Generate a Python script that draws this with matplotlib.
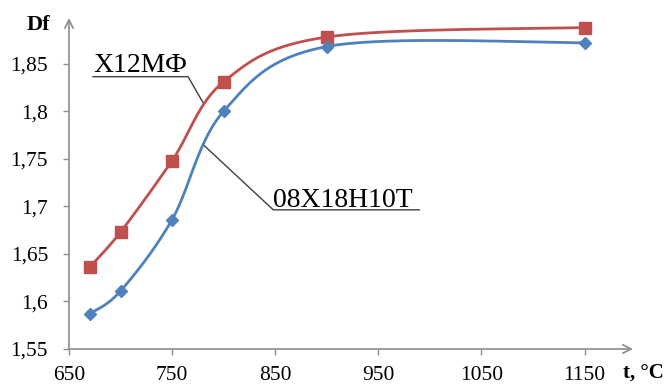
import numpy as np
import matplotlib
matplotlib.use("Agg")
import matplotlib.pyplot as plt

# Data
temps = [670, 700, 750, 800, 900, 1150]
df_x12mf = [1.636, 1.673, 1.748, 1.831, 1.878, 1.888]
df_08x18 = [1.587, 1.611, 1.686, 1.800, 1.868, 1.872]
xticks = [650, 750, 850, 950, 1050, 1150]
xtick_labels = ["650", "750", "850", "950", "1050", "1150"]
yticks = [1.55, 1.6, 1.65, 1.7, 1.75, 1.8, 1.85]
ytick_labels = ["1,55", "1,6", "1,65", "1,7", "1,75", "1,8", "1,85"]
name_red = "Х12МФ"
name_blue = "08Х18Н10Т"

XLIM = (650, 1197)
YLIM = (1.55, 1.898)

RED = "#C0504D"
BLUE = "#4F81BD"
AX = "#8C8C8C"
SERIF = ["Liberation Serif", "DejaVu Serif"]

def smooth(xs, ys, n=40):
    # Excel-like smoothed line (Catmull-Rom Bezier) computed in normalized space
    xs = np.asarray(xs, float); ys = np.asarray(ys, float)
    sx = 547.0 / (XLIM[1] - XLIM[0]); sy = 331.0 / (YLIM[1] - YLIM[0])
    P = np.column_stack([(xs - XLIM[0]) * sx, (ys - YLIM[0]) * sy])
    out = []
    for i in range(len(P) - 1):
        p0 = P[i - 1] if i > 0 else P[i]
        p1 = P[i]; p2 = P[i + 1]
        p3 = P[i + 2] if i + 2 < len(P) else P[i + 1]
        c1 = p1 + (p2 - p0) / 6.0
        c2 = p2 - (p3 - p1) / 6.0
        t = np.linspace(0, 1, n)[:, None]
        seg = (1 - t) ** 3 * p1 + 3 * (1 - t) ** 2 * t * c1 + 3 * (1 - t) * t ** 2 * c2 + t ** 3 * p2
        out.append(seg if i == 0 else seg[1:])
    out = np.vstack(out)
    return out[:, 0] / sx + XLIM[0], out[:, 1] / sy + YLIM[0]

fig = plt.figure(figsize=(6.68, 3.85), dpi=100)
ax = fig.add_axes([69 / 668, 1 - 349 / 385, (633 - 69) / 668, (349 - 18) / 385])
ax.set_xlim(*XLIM)
ax.set_ylim(*YLIM)

for sp in ax.spines.values():
    sp.set_visible(False)

# axis arrows
ax.annotate("", xy=(1, 0), xytext=(0, 0), xycoords="axes fraction",
            arrowprops=dict(arrowstyle="->,head_length=0.6,head_width=0.3", color=AX, lw=1.2,
                            shrinkA=0, shrinkB=0), annotation_clip=False)
ax.annotate("", xy=(0, 1), xytext=(0, 0), xycoords="axes fraction",
            arrowprops=dict(arrowstyle="->,head_length=0.6,head_width=0.3", color=AX, lw=1.2,
                            shrinkA=0, shrinkB=0), annotation_clip=False)

ax.set_xticks(xticks)
ax.set_xticklabels(xtick_labels, fontfamily=SERIF, fontsize=15.5)
ax.set_yticks(yticks)
ax.set_yticklabels(ytick_labels, fontfamily=SERIF, fontsize=15.5)
ax.tick_params(axis="both", colors=AX, labelcolor="black", length=4, width=1, direction="out")
ax.tick_params(axis="x", pad=8)
ax.tick_params(axis="y", pad=11)

rx, ry = smooth(temps, df_x12mf)
bx, by = smooth(temps, df_08x18)
ax.plot(rx, ry, color=RED, lw=2.0, zorder=3, clip_on=False)
ax.plot(bx, by, color=BLUE, lw=2.0, zorder=3, clip_on=False)
ax.plot(temps, df_x12mf, ls="none", marker="s", ms=8.5, color=RED, zorder=4, clip_on=False)
ax.plot(temps, df_08x18, ls="none", marker="D", ms=6, color=BLUE, zorder=4, clip_on=False)

# labels with underline and leader lines
ax.text(673.3, 1.8416, name_red, fontfamily=SERIF, fontsize=20, ha="left", va="baseline")
ax.plot([673.3, 765.5, 780], [1.8363, 1.8363, 1.809], color="#404040", lw=1.0, zorder=2)
ax.text(848.1, 1.6995, name_blue, fontfamily=SERIF, fontsize=20, ha="left", va="baseline")
ax.plot([989.8, 848.1, 780], [1.6963, 1.6963, 1.765], color="#404040", lw=1.0, zorder=2)

fig.text(38 / 668, 1 - 25 / 385, "Df", fontfamily=SERIF, fontsize=16, fontweight="bold",
         ha="center", va="center")
fig.text(664 / 668, 1 - 373 / 385, "t, °C", fontfamily=SERIF, fontsize=15, fontweight="bold",
         ha="right", va="center")

fig.savefig("out.png", dpi=100)
